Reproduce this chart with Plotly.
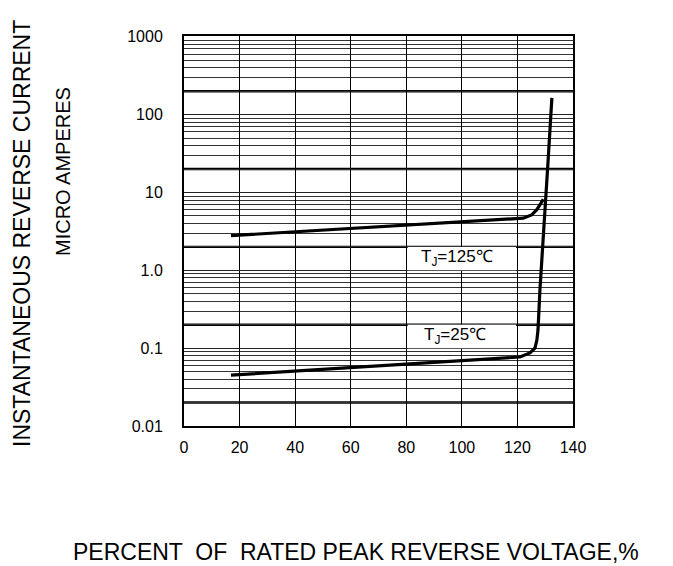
import math
import plotly.graph_objects as go

# ---- data ----
t125_x = [16.9, 122.1, 125.1, 126.9, 128.5, 129.3]
t125_y = [2.79, 4.68, 5.15, 5.97, 7.3, 8.2]

t25_x = [16.9, 120.9, 124.5, 126.3, 127.0, 127.4, 128.1, 130.5, 130.9, 131.7, 132.4]
t25_y = [0.045, 0.077, 0.087, 0.10, 0.127, 0.171, 0.56, 9.8, 21.5, 63, 164]

x_ticks = [0, 20, 40, 60, 80, 100, 120, 140]
y_ticks = [0.01, 0.1, 1, 10, 100, 1000]
y_ticktext = ["0.01", "0.1", "1.0", "10", "100", "1000"]
heavy_lines = [0.02, 0.2, 2, 20, 200]

label_125 = "T<sub>J</sub>=125℃"
label_25 = "T<sub>J</sub>=25℃"
x_title = "PERCENT  OF  RATED PEAK REVERSE VOLTAGE,%"
y_title1 = "INSTANTANEOUS REVERSE CURRENT"
y_title2 = "MICRO AMPERES"

FONT = "Liberation Sans, Arial, sans-serif"

fig = go.Figure()
fig.add_trace(go.Scatter(x=t125_x, y=t125_y, mode="lines",
                         line=dict(color="black", width=3.2), showlegend=False))
fig.add_trace(go.Scatter(x=t25_x, y=t25_y, mode="lines",
                         line=dict(color="black", width=3.2), showlegend=False))

shapes = []
# white label boxes
for (y0, y1) in [(1, 2), (0.1, 0.2)]:
    shapes.append(dict(type="rect", xref="x", yref="y", x0=80.5, x1=119.5, y0=y0, y1=y1,
                       fillcolor="white", line=dict(width=0), layer="between"))
# heavy grid lines
for v in heavy_lines:
    shapes.append(dict(type="line", xref="paper", yref="y", x0=0, x1=1, y0=v, y1=v,
                       line=dict(color="black", width=2.4), layer="between"))
fig.update_layout(shapes=shapes)

fig.update_xaxes(range=[0, 140], tickvals=x_ticks, showgrid=True, gridcolor="black",
                 gridwidth=1.2, showline=True, linecolor="black", linewidth=2, mirror=True,
                 ticks="", ticklabelstandoff=6, zeroline=False,
                 tickfont=dict(family=FONT, size=16, color="black"))
fig.update_yaxes(type="log", range=[-2, 3.01], tickvals=y_ticks, ticktext=y_ticktext,
                 showgrid=True, gridcolor="#222", gridwidth=1,
                 minor=dict(dtick="D1", showgrid=True, gridcolor="#333", gridwidth=1, ticks=""),
                 showline=True, linecolor="black", linewidth=2, mirror=True,
                 ticks="", ticklabelstandoff=16, zeroline=False,
                 tickfont=dict(family=FONT, size=16, color="black"))

# page body adds an 8px offset; compensate so the screenshot lines up
OFF = 8
W, H = 673 - OFF, 566 - OFF
L, R, T, B = 184 - OFF, 100, 36 - OFF, 140
pw, ph = W - L - R, H - T - B

def px_to_paper(px, py):
    return (px - OFF - L) / pw, (H - B - (py - OFF)) / ph

annotations = []
annotations.append(dict(x=98.3, y=math.log10(1.42), xref="x", yref="y", text=label_125,
                        showarrow=False, font=dict(family=FONT, size=17, color="black")))
annotations.append(dict(x=97.5, y=math.log10(0.142), xref="x", yref="y", text=label_25,
                        showarrow=False, font=dict(family=FONT, size=17, color="black")))
ax, ay = px_to_paper(356, 552)
annotations.append(dict(x=ax, y=ay, xref="paper", yref="paper", text=x_title, showarrow=False,
                        xanchor="center", yanchor="middle",
                        font=dict(family=FONT, size=23, color="black")))
ax, ay = px_to_paper(22, 234)
annotations.append(dict(x=ax, y=ay, xref="paper", yref="paper", text=y_title1, showarrow=False,
                        textangle=-90, xanchor="center", yanchor="middle",
                        font=dict(family=FONT, size=23, color="black")))
ax, ay = px_to_paper(63, 171)
annotations.append(dict(x=ax, y=ay, xref="paper", yref="paper", text=y_title2, showarrow=False,
                        textangle=-90, xanchor="center", yanchor="middle",
                        font=dict(family=FONT, size=20, color="black")))

fig.update_layout(width=W, height=H, margin=dict(l=L, r=R, t=T, b=B),
                  paper_bgcolor="white", plot_bgcolor="white", annotations=annotations,
                  showlegend=False)

fig.write_html("out.html")
